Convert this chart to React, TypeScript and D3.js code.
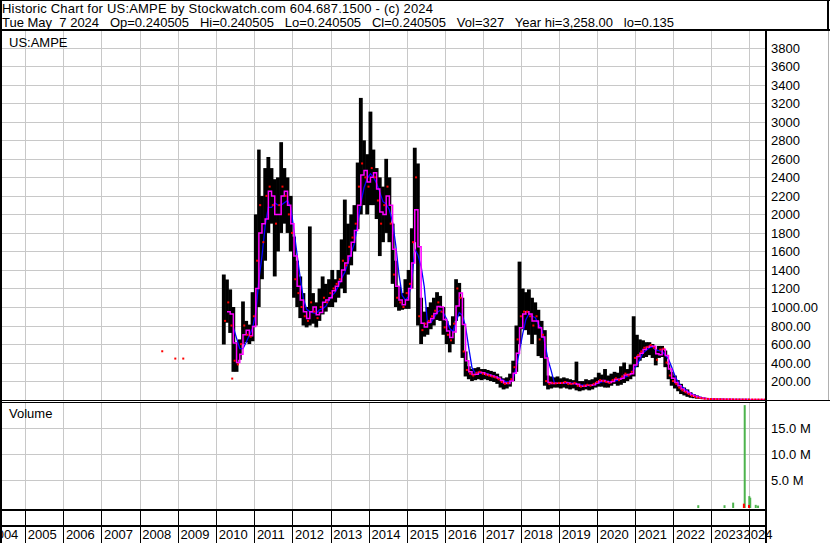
import React from 'react';
import * as d3 from 'd3';

const FONT = '"Liberation Sans", Arial, Helvetica, sans-serif';
const W = 830;
const H = 543;

// ---- Monthly price data, starting March 2010 ----
const firstYear = 2010;
const firstMonth = 2; // March (0-based)

const priceHigh = [
  // 2010 Mar-Dec
  1351, 1297, 1190, 1000, 620, 650, 1060, 850, 810, 1160,
  // 2011
  2000, 2700, 2200, 2500, 2620, 2500, 2380, 2400, 2780, 2500, 2400, 2200,
  // 2012
  1760, 1500, 1330, 1150, 1000, 1870, 1150, 1050, 1200, 1330, 1250, 1300,
  // 2013
  1400, 1300, 1400, 1730, 2160, 1900, 2000, 2100, 2560, 3258, 2800, 2650,
  // 2014
  3110, 2700, 2500, 2400, 2300, 2600, 2400, 1900, 1500, 1220, 1150, 1300,
  // 2015
  1400, 1850, 2720, 2550, 1100, 950, 1000, 1050, 1100, 1160, 1120, 1000,
  // 2016
  850, 800, 900, 1300, 1260, 1100, 520, 360, 330, 340, 350, 330,
  // 2017
  330, 320, 310, 300, 280, 250, 230, 240, 280, 420, 800, 1490,
  // 2018
  1200, 1160, 1190, 1100, 1050, 970, 850, 750, 260, 250, 240, 250,
  // 2019
  230, 240, 230, 220, 210, 410, 200, 200, 220, 210, 220, 240,
  // 2020
  290, 270, 330, 260, 280, 300, 290, 360, 400, 330, 380, 900,
  // 2021
  700, 650, 640, 620, 620, 600, 540, 580, 580, 530, 380, 300,
  // 2022
  260, 210, 170, 130, 110, 80, 60, 45, 30, 20, 15, 10,
  // 2023
  8, 7, 6, 5, 4, 4, 3, 3, 3, 2, 2, 1.5,
  // 2024 Jan-May
  1.2, 1, 0.8, 0.5, 0.3,
];

const priceLow = [
  595, 830, 720, 300, 300, 430, 600, 620, 600, 630,
  800, 1000, 1300, 1500, 1800, 1900, 1330, 1600, 1800, 1900, 1800, 1600,
  1100, 1000, 880, 800, 780, 800, 820, 780, 850, 920, 950, 1000,
  1000, 1050, 1100, 1200, 1150, 1350, 1450, 1600, 1840, 2000, 2100, 2000,
  2100, 2100, 1950, 1550, 1700, 1800, 1700, 1250, 1000, 960, 970, 980,
  980, 1200, 1700, 800, 600, 680, 700, 760, 800, 860, 850, 700,
  600, 510, 600, 850, 900, 450, 250, 220, 200, 210, 220, 210,
  220, 210, 200, 190, 170, 130, 110, 120, 140, 200, 300, 600,
  760, 750, 700, 600, 700, 470, 450, 150, 110, 120, 130, 130,
  120, 130, 120, 110, 120, 100, 90, 100, 110, 100, 110, 130,
  140, 140, 130, 130, 150, 170, 150, 160, 180, 200, 220, 250,
  350, 420, 450, 460, 480, 450, 370, 450, 460, 350, 220, 150,
  120, 90, 60, 45, 30, 20, 15, 10, 8, 5, 4, 3,
  3, 3, 2, 2, 1.5, 1.5, 1, 1, 1, 0.6, 0.5, 0.4,
  0.3, 0.25, 0.2, 0.15, 0.135,
];

const priceClose = [
  850, 1050, 800, 420, 380, 600, 800, 700, 680, 900,
  1500, 2100, 1700, 2200, 2300, 2100, 1900, 2100, 2300, 2200, 2000, 1800,
  1300, 1150, 1000, 900, 850, 1050, 950, 880, 1000, 1100, 1050, 1150,
  1200, 1250, 1300, 1500, 1450, 1650, 1750, 1900, 2300, 2550, 2400, 2300,
  2500, 2400, 2150, 1900, 2100, 2300, 1900, 1350, 1100, 1050, 1000, 1150,
  1250, 1700, 2400, 900, 750, 820, 850, 900, 960, 1050, 950, 780,
  700, 640, 820, 1200, 1100, 520, 320, 280, 260, 290, 300, 280,
  270, 260, 250, 240, 220, 190, 170, 180, 220, 350, 650, 900,
  950, 950, 900, 800, 900, 650, 700, 200, 170, 180, 175, 180,
  180, 190, 170, 170, 180, 150, 140, 150, 160, 150, 170, 190,
  210, 200, 190, 180, 210, 230, 210, 250, 280, 260, 300, 450,
  480, 520, 560, 570, 590, 560, 430, 540, 550, 400, 260, 200,
  170, 130, 100, 80, 60, 40, 30, 20, 15, 10, 8, 6,
  5, 4, 4, 3, 2.5, 2.5, 2, 2, 1.5, 1, 0.8, 0.6,
  0.5, 0.4, 0.3, 0.25, 0.240505,
];

// Isolated early trades (red marks)
const tradeDates = ['2008-08-05', '2008-12-08', '2009-02-22', '2010-06-05'];
const tradeValues = [522, 443, 443, 227];

// Volume bars
const volDates = ['2022-08-29', '2023-05-08', '2023-07-30', '2023-11-18', '2023-11-10', '2023-12-29', '2024-01-01', '2024-01-10', '2024-03-03', '2024-03-25'];
const volValues = [0.15e6, 0.15e6, 0.65e6, 19.4e6, 0.45e6, 0.2e6, 1.9e6, 1.6e6, 0.22e6, 0.08e6];
const volUp = [true, true, true, true, false, false, true, true, true, true];

// Axis ticks
const priceTicks = [200, 400, 600, 800, 1000, 1200, 1400, 1600, 1800, 2000, 2200, 2400, 2600, 2800, 3000, 3200, 3400, 3600, 3800];
const priceTickLabels = ['200.00', '400.00', '600.00', '800.00', '1000.00', '1200', '1400', '1600', '1800', '2000', '2200', '2400', '2600', '2800', '3000', '3200', '3400', '3600', '3800'];
const volTicks = [5e6, 10e6, 15e6];
const volTickLabels = ['5.0 M', '10.0 M', '15.0 M'];
const years = [2004, 2005, 2006, 2007, 2008, 2009, 2010, 2011, 2012, 2013, 2014, 2015, 2016, 2017, 2018, 2019, 2020, 2021, 2022, 2023, 2024];

const headerLine1 = 'Historic Chart for US:AMPE by Stockwatch.com 604.687.1500 - (c) 2024';
const headerLine2 = 'Tue May  7 2024   Op=0.240505   Hi=0.240505   Lo=0.240505   Cl=0.240505   Vol=327   Year hi=3,258.00   lo=0.135';

const PLOT_L = 2;
const PLOT_R = 765;
const PRICE_TOP = 31;
const PRICE_BOT = 400;
const VOL_TOP = 403;
const VOL_BOT = 509;

export default function App() {
  const x = d3
    .scaleUtc()
    .domain([new Date(Date.UTC(2005, 0, 1)), new Date(Date.UTC(2015, 0, 1)), new Date(Date.UTC(2024, 0, 1))])
    .range([25, 407, 749.3]);
  const yP = d3.scaleLinear().domain([0, 4000]).range([399.6, 29.2]);
  const yV = d3.scaleLinear().domain([0, 20e6]).range([506, 402]);
  const crisp = (v: number) => Math.round(v) + 0.5;

  const monthStart = priceClose.map((_, i) => x(new Date(Date.UTC(firstYear, firstMonth + i, 1))));
  const monthEnd = priceClose.map((_, i) => x(new Date(Date.UTC(firstYear, firstMonth + i + 1, 1))));
  const monthX = priceClose.map((_, i) => (monthStart[i] + monthEnd[i]) / 2);

  const ma = (n: number) =>
    priceClose.map((_, i) => (i < n - 1 ? null : (d3.mean(priceClose.slice(i - n + 1, i + 1)) as number)));
  const maFast = ma(2);
  const maSlow = ma(4);

  const fastLine = d3
    .line<number | null>()
    .defined((d) => d != null)
    .x((_, i) => monthX[i])
    .y((d) => yP(d as number))
    .curve(d3.curveStepAfter);
  const slowLine = d3
    .line<number | null>()
    .defined((d) => d != null)
    .x((_, i) => monthX[i])
    .y((d) => yP(d as number));

  const yearXs = years.map((yr) => x(new Date(Date.UTC(yr, 0, 1))));

  return (
    <svg
      width={W}
      height={H}
      style={{ position: 'absolute', left: 0, top: 0, background: '#fff', fontFamily: FONT }}
    >
      <defs>
        <clipPath id="priceClip">
          <rect x={PLOT_L} y={PRICE_TOP} width={PLOT_R - PLOT_L} height={PRICE_BOT - PRICE_TOP} />
        </clipPath>
        <clipPath id="volClip">
          <rect x={PLOT_L} y={VOL_TOP} width={PLOT_R - PLOT_L} height={VOL_BOT - VOL_TOP} />
        </clipPath>
      </defs>
      <rect x={0} y={0} width={W} height={H} fill="#fff" />

      {/* Header */}
      <text x={2} y={13} fontSize={13} textLength={431} lengthAdjust="spacing" style={{ whiteSpace: 'pre' }}>
        {headerLine1}
      </text>
      <text x={2} y={27} fontSize={13} style={{ whiteSpace: 'pre' }}>
        {headerLine2}
      </text>

      {/* Price gridlines */}
      {priceTicks.map((v) => (
        <line key={'pg' + v} x1={PLOT_L} x2={PLOT_R} y1={crisp(yP(v))} y2={crisp(yP(v))} stroke="#c8c8c8" strokeWidth={1} />
      ))}
      {yearXs.map((xv, i) =>
        xv > PLOT_L && xv < PLOT_R ? (
          <line key={'vg' + i} x1={crisp(xv)} x2={crisp(xv)} y1={PRICE_TOP} y2={PRICE_BOT} stroke="#c8c8c8" strokeWidth={1} />
        ) : null
      )}

      {/* Volume gridlines */}
      {volTicks.map((v) => (
        <line key={'vgh' + v} x1={PLOT_L} x2={PLOT_R} y1={crisp(yV(v))} y2={crisp(yV(v))} stroke="#c8c8c8" strokeWidth={1} />
      ))}
      {yearXs.map((xv, i) =>
        xv > PLOT_L && xv < PLOT_R ? (
          <line key={'vvg' + i} x1={crisp(xv)} x2={crisp(xv)} y1={VOL_TOP} y2={VOL_BOT} stroke="#c8c8c8" strokeWidth={1} />
        ) : null
      )}

      {/* Price bars */}
      <g clipPath="url(#priceClip)">
        {priceHigh.map((h, i) => {
          const top = yP(h);
          const bot = yP(priceLow[i]);
          return (
            <rect
              key={'b' + i}
              x={monthStart[i] - 0.3}
              y={top}
              width={monthEnd[i] - monthStart[i] + 0.6}
              height={Math.max(1, bot - top)}
              fill="#000"
            />
          );
        })}
        <path d={slowLine(maSlow) || ''} fill="none" stroke="#0000ff" strokeWidth={1.3} />
        <path d={fastLine(maFast) || ''} fill="none" stroke="#ff00ff" strokeWidth={1.5} />
        {priceClose.map((c, i) => (
          <rect key={'c' + i} x={monthX[i] + 0.3} y={yP(c) - 1} width={2} height={2} fill="#ff0000" />
        ))}
        {tradeDates.map((d, i) => (
          <rect key={'t' + i} x={x(new Date(d + 'T00:00:00Z')) - 1} y={yP(tradeValues[i]) - 1} width={2} height={2} fill="#ff0000" />
        ))}
      </g>

      {/* Volume bars */}
      <g clipPath="url(#volClip)">
        {volValues.map((v, i) =>
          volUp[i] ? (
            <rect key={'vu' + i} x={x(new Date(volDates[i] + 'T00:00:00Z')) - 1} y={yV(v)} width={2} height={508 - yV(v)} fill="#4db34d" />
          ) : null
        )}
        {volValues.map((v, i) =>
          !volUp[i] ? (
            <rect key={'vd' + i} x={x(new Date(volDates[i] + 'T00:00:00Z')) - 1} y={yV(v)} width={2} height={508 - yV(v)} fill="#ff0000" />
          ) : null
        )}
      </g>

      {/* Panel labels */}
      <text x={9} y={46.5} fontSize={13}>US:AMPE</text>
      <text x={9} y={418} fontSize={13}>Volume</text>

      {/* Right axis labels */}
      {priceTicks.map((v, i) => (
        <text key={'pl' + v} x={771} y={crisp(yP(v)) + 4.5} fontSize={13}>
          {priceTickLabels[i]}
        </text>
      ))}
      {volTicks.map((v, i) => (
        <text key={'vl' + v} x={771} y={crisp(yV(v)) + 4.5} fontSize={13}>
          {volTickLabels[i]}
        </text>
      ))}

      {/* Year strip separators */}
      {yearXs.map((xv, i) =>
        xv > PLOT_L && xv < PLOT_R ? (
          <line key={'ys' + i} x1={crisp(xv)} x2={crisp(xv)} y1={VOL_BOT} y2={H} stroke="#000" strokeWidth={1} />
        ) : null
      )}
      {years.map((yr, i) => (
        <text key={'yl' + yr} x={Math.min(yearXs[i] + 2.7, 743.5)} y={538.5} fontSize={13}>
          {String(yr)}
        </text>
      ))}

      {/* Frame lines */}
      <line x1={0} x2={W} y1={0.5} y2={0.5} stroke="#000" strokeWidth={1} />
      <rect x={0} y={29} width={W} height={2} fill="#000" />
      <rect x={0} y={0} width={2} height={H} fill="#000" />
      <rect x={827} y={0} width={2} height={31} fill="#000" />
      <line x1={828.5} x2={828.5} y1={31} y2={400} stroke="#b0b0b0" strokeWidth={1} />
      <line x1={0} x2={W} y1={400.5} y2={400.5} stroke="#000" strokeWidth={1} />
      <line x1={0} x2={PLOT_R} y1={402.5} y2={402.5} stroke="#000" strokeWidth={1} />
      <rect x={0} y={509} width={PLOT_R} height={2} fill="#000" />
      <rect x={0} y={525} width={PLOT_R} height={2} fill="#000" />
      <rect x={765} y={31} width={2} height={H - 31} fill="#000" />
    </svg>
  );
}
